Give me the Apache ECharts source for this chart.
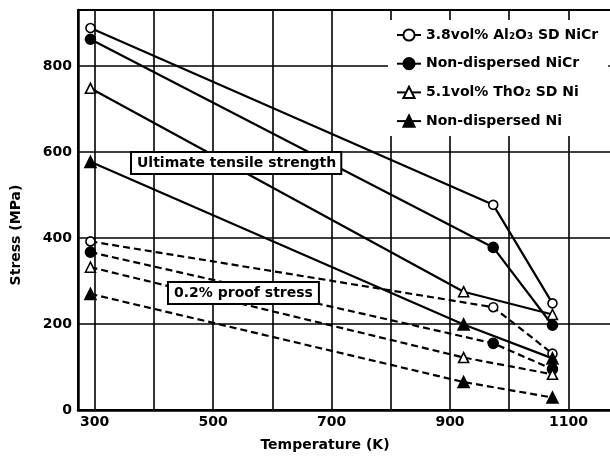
<!DOCTYPE html>
<html><head><meta charset="utf-8">
<script src="https://cdn.jsdelivr.net/npm/echarts@6/dist/echarts.min.js"></script>
<style>html,body{margin:0;padding:0;background:#fff}#c{width:610px;height:457px}</style>
</head><body><div id="c"></div>
<script>
// Temperatures (K)
const tempsNiCr = [293, 973, 1073];
const tempsNi = [293, 923, 1073];
// Ultimate tensile strength (MPa)
const utsAl2O3NiCr = [888, 477, 248];
const utsNiCr = [862, 378, 197];
const utsThO2Ni = [748, 275, 222];
const utsNi = [577, 199, 120];
// 0.2% proof stress (MPa)
const ysAl2O3NiCr = [392, 239, 131];
const ysNiCr = [367, 155, 95];
const ysThO2Ni = [332, 122, 83];
const ysNi = [270, 65, 29];
// Axis ticks
const xTickLabels = [300, 500, 700, 900, 1100];
const xGridValues = [300, 400, 500, 600, 700, 800, 900, 1000, 1100];
const yTickValues = [0, 200, 400, 600, 800];
const seriesNames = ['3.8vol% Al\u2082O\u2083 SD NiCr', 'Non-dispersed NiCr', '5.1vol% ThO\u2082 SD Ni', 'Non-dispersed Ni'];

const FONT = '"DejaVu Sans", sans-serif';
const pts = (xs, ys) => xs.map((x, i) => [x, ys[i]]);

const materials = [
  {name: seriesNames[0], t: tempsNiCr, uts: utsAl2O3NiCr, ys: ysAl2O3NiCr, symbol: 'circle', fill: '#fff', size: 9},
  {name: seriesNames[1], t: tempsNiCr, uts: utsNiCr, ys: ysNiCr, symbol: 'circle', fill: '#000', size: 10},
  {name: seriesNames[2], t: tempsNi, uts: utsThO2Ni, ys: ysThO2Ni, symbol: 'triangle', fill: '#fff', size: 10},
  {name: seriesNames[3], t: tempsNi, uts: utsNi, ys: ysNi, symbol: 'triangle', fill: '#000', size: 11}
];

const series = [];
materials.forEach(m => {
  const base = {
    type: 'line', name: m.name, symbol: m.symbol, symbolSize: m.size, showAllSymbol: true,
    itemStyle: {color: m.fill, borderColor: '#000', borderWidth: 1.6},
    emphasis: {disabled: true}, z: 3
  };
  series.push(Object.assign({}, base, {data: pts(m.t, m.uts), lineStyle: {color: '#000', width: 2.2, type: 'solid'}}));
  series.push(Object.assign({}, base, {data: pts(m.t, m.ys), lineStyle: {color: '#000', width: 2.2, type: [7, 4]}}));
});

const chart = echarts.init(document.getElementById('c'), null, {renderer: 'canvas'});
chart.setOption({
  animation: false,
  backgroundColor: '#fff',
  grid: {left: 78, right: -10, top: 10, bottom: 47, show: true, borderColor: '#000', borderWidth: 2, outerBoundsMode: 'none', containLabel: false},
  xAxis: {
    type: 'value', min: 272, max: 1187,
    axisLine: {show: true, lineStyle: {color: '#000', width: 2.5}},
    axisTick: {show: false, customValues: xGridValues},
    axisLabel: {customValues: xTickLabels, formatter: v => String(v), color: '#000', fontFamily: FONT, fontWeight: 'bold', fontSize: 14, margin: 5},
    splitLine: {show: true, lineStyle: {color: '#000', width: 1.6}}
  },
  yAxis: {
    type: 'value', min: 0, max: 930,
    axisLine: {show: true, lineStyle: {color: '#000', width: 2.5}},
    axisTick: {show: false, customValues: yTickValues},
    axisLabel: {customValues: yTickValues, formatter: v => String(v), color: '#000', fontFamily: FONT, fontWeight: 'bold', fontSize: 14, margin: 6},
    splitLine: {show: true, lineStyle: {color: '#000', width: 1.6}}
  },
  legend: {
    orient: 'vertical', left: 388, top: 20, itemWidth: 24, itemHeight: 14, itemGap: 14.7,
    backgroundColor: '#fff', padding: [8, 10, 8, 8],
    textStyle: {fontFamily: FONT, fontWeight: 'bold', fontSize: 14, color: '#000'},
    data: seriesNames, selectedMode: false
  },
  graphic: [
    {type: 'text', left: 130, top: 151, z: 100, style: {text: 'Ultimate tensile strength', font: 'bold 14px "DejaVu Sans"', fill: '#000', backgroundColor: '#fff', borderColor: '#000', borderWidth: 2, padding: [3, 4, 3, 5]}},
    {type: 'text', left: 167, top: 281, z: 100, style: {text: '0.2% proof stress', font: 'bold 14px "DejaVu Sans"', fill: '#000', backgroundColor: '#fff', borderColor: '#000', borderWidth: 2, padding: [3, 5, 3, 5]}},
    {type: 'text', x: 16, y: 235, rotation: Math.PI / 2, z: 100, style: {text: 'Stress (MPa)', font: 'bold 14px "DejaVu Sans"', fill: '#000', align: 'center', verticalAlign: 'middle'}},
    {type: 'text', x: 325, y: 445, z: 100, style: {text: 'Temperature (K)', font: 'bold 14px "DejaVu Sans"', fill: '#000', align: 'center', verticalAlign: 'middle'}}
  ],
  series: series
});
</script>
</body></html>
